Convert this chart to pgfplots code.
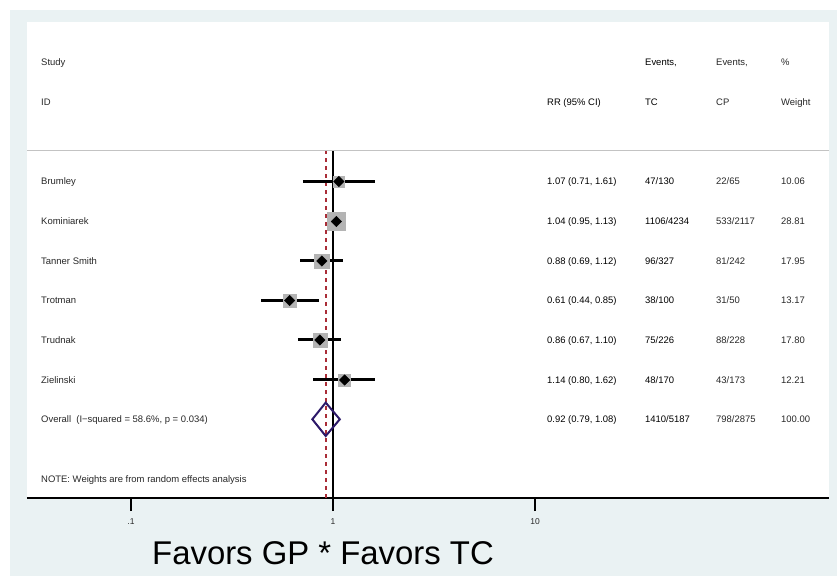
\documentclass[border=0pt]{standalone}
\usepackage{pgfplots}
\pgfplotsset{compat=1.18}
\usepackage{pgfplotstable}
\usepackage{fontspec}
\setmainfont{Liberation Sans}

\definecolor{bggray}{RGB}{234,242,243}
\definecolor{boxgray}{RGB}{180,180,180}
\definecolor{ovline}{RGB}{170,45,55}
\definecolor{diam}{RGB}{45,25,105}
\definecolor{sepgray}{RGB}{195,195,195}
\definecolor{txt}{RGB}{40,40,40}

% study rows: RR and y position (bp from bottom)
\pgfplotstableread{
study rr   lo   hi   y
1     1.07 0.71 1.61 394.5
2     1.04 0.95 1.13 354.5
3     0.88 0.69 1.12 315.0
4     0.61 0.44 0.85 275.5
5     0.86 0.67 1.10 236.0
6     1.14 0.80 1.62 196.0
}\studies

\newcommand\tx{\fontsize{9.5}{11}\selectfont}

\begin{document}
\begin{tikzpicture}
    \path[use as bounding box] (0,0) rectangle (837bp,576bp);
    \fill[bggray] (10bp,0) rectangle (837bp,566bp);
    \fill[white] (27bp,78bp) rectangle (829bp,554bp);
    \draw[sepgray, line width=1bp] (27bp,425bp) -- (829bp,425bp);

    \begin{axis}[
        at={(27bp,78bp)}, anchor=south west,
        width=802bp, height=476bp, scale only axis,
        xmode=log, xmin=0.03055, xmax=285.3,
        ymin=78, ymax=554,
        axis x line=bottom, axis y line=none,
        axis line style={-, line width=2bp},
        xtick={0.1,1,10}, xticklabels={.1,1,10},
        xminorticks=false,
        tick align=outside, major tick length=13bp,
        x tick style={line width=1.5bp, black},
        x tick label style={font=\fontsize{8.5}{10}\selectfont, color=txt, yshift=-4bp},
        clip=false,
        box/.style={only marks, mark=square*, color=boxgray, mark size=#1},
    ]
        % weight boxes (side ~ sqrt of weight)
        \addplot[box=5.6bp] coordinates {(1.07,394.5)};
        \addplot[box=9.0bp] coordinates {(1.04,354.5)};
        \addplot[box=7.2bp] coordinates {(0.88,315.0)};
        \addplot[box=6.4bp] coordinates {(0.61,275.5)};
        \addplot[box=7.1bp] coordinates {(0.86,236.0)};
        \addplot[box=6.1bp] coordinates {(1.14,196.0)};

        % null line and overall effect line
        \addplot[black, line width=1.8bp] coordinates {(1,78) (1,425)};
        \addplot[ovline, line width=1.6bp, dash pattern=on 4bp off 4bp]
            coordinates {(0.92,78) (0.92,425)};

        % confidence intervals
        \addplot[black, line width=3bp, unbounded coords=jump] coordinates {
            (0.71,394.5) (1.61,394.5) (1,nan)
            (0.95,354.5) (1.13,354.5) (1,nan)
            (0.69,315.0) (1.12,315.0) (1,nan)
            (0.44,275.5) (0.85,275.5) (1,nan)
            (0.67,236.0) (1.10,236.0) (1,nan)
            (0.80,196.0) (1.62,196.0)
        };

        % point estimates
        \addplot[only marks, mark=square*, mark size=3.7bp, black,
            mark options={rotate=45}]
            table[x=rr, y=y] {\studies};

        % pooled estimate
        \addplot[diam, line width=2bp, line join=miter] coordinates {
            (0.79,156.7) (0.92,173.4) (1.08,156.7) (0.92,140.0)
        } -- cycle;
    \end{axis}

    \begin{scope}[x=1bp, y=1bp, every node/.style={anchor=base west, inner sep=0pt, font=\tx, text=txt}]
        % header
        \node at (41,510.6) {Study};
        \node at (41,470.6) {ID};
        \node[text=black] at (547,470.6) {RR (95\% CI)};
        \node[text=black] at (645,510.6) {Events,};
        \node[text=black] at (645,470.6) {TC};
        \node at (716,510.6) {Events,};
        \node at (716,470.6) {CP};
        \node at (781,510.6) {\%};
        \node at (781,470.6) {Weight};

        % rows
        \foreach \yy/\name/\rr/\tc/\cp/\w in {
            391.1/Brumley/{1.07 (0.71, 1.61)}/47\slash130/22\slash65/10.06,
            351.1/Kominiarek/{1.04 (0.95, 1.13)}/1106\slash4234/533\slash2117/28.81,
            311.6/Tanner Smith/{0.88 (0.69, 1.12)}/96\slash327/81\slash242/17.95,
            272.1/Trotman/{0.61 (0.44, 0.85)}/38\slash100/31\slash50/13.17,
            232.6/Trudnak/{0.86 (0.67, 1.10)}/75\slash226/88\slash228/17.80,
            192.6/Zielinski/{1.14 (0.80, 1.62)}/48\slash170/43\slash173/12.21} {
            \node at (41,\yy) {\name};
            \node[text=black] at (547,\yy) {\rr};
            \node[text=black] at (645,\yy) {\tc};
            \node at (716,\yy) {\cp};
            \node at (781,\yy) {\w};
        }

        \node at (41,153.3) {Overall\ \ (I−squared = 58.6\%, p = 0.034)};
        \node[text=black] at (547,153.3) {0.92 (0.79, 1.08)};
        \node[text=black] at (645,153.3) {1410/5187};
        \node at (716,153.3) {798/2875};
        \node at (781,153.3) {100.00};

        \node at (41,93.6) {NOTE: Weights are from random effects analysis};

        \node[font=\fontsize{33}{36}\selectfont, text=black] at (152,12) {Favors GP * Favors TC};
    \end{scope}
\end{tikzpicture}
\end{document}
